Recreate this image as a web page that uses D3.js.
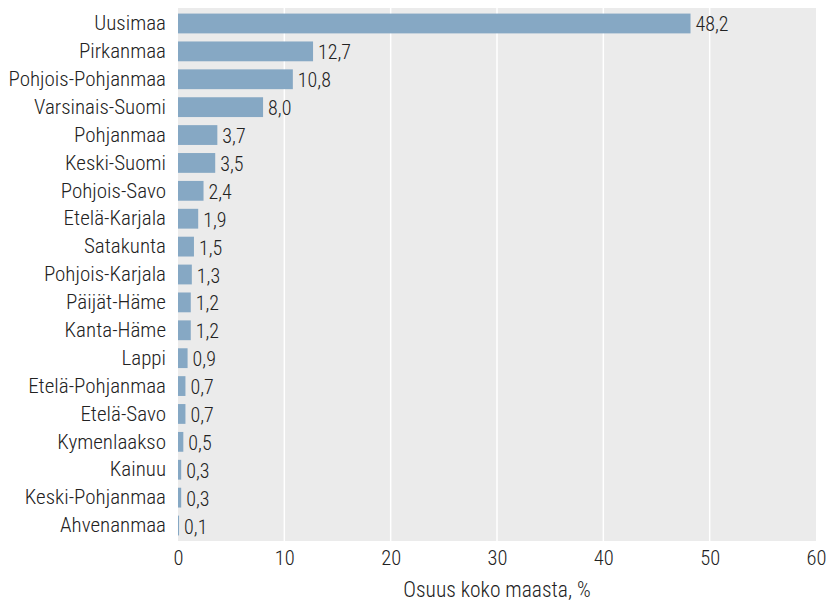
<!DOCTYPE html>
<html><head><meta charset="utf-8">
<script src="https://cdn.jsdelivr.net/npm/d3@7"></script>
<style>
body{margin:0;background:#fff;}
text{font-family:"Roboto Condensed","Liberation Sans Narrow","DejaVu Sans Condensed",sans-serif;font-weight:300;fill:#222;}
</style></head>
<body>
<svg id="chart" width="835" height="603"></svg>
<script>
const regions = ["Uusimaa","Pirkanmaa","Pohjois-Pohjanmaa","Varsinais-Suomi","Pohjanmaa","Keski-Suomi","Pohjois-Savo","Etelä-Karjala","Satakunta","Pohjois-Karjala","Päijät-Häme","Kanta-Häme","Lappi","Etelä-Pohjanmaa","Etelä-Savo","Kymenlaakso","Kainuu","Keski-Pohjanmaa","Ahvenanmaa"];
const shares = [48.2,12.7,10.8,8.0,3.7,3.5,2.4,1.9,1.5,1.3,1.2,1.2,0.9,0.7,0.7,0.5,0.3,0.3,0.1];
const xTicks = [0,10,20,30,40,50,60];
const xTitle = "Osuus koko maasta, %";

const svg = d3.select("#chart");
const W = 835, H = 603;
const m = {l:178, r:W-816, t:8, b:H-541};
const x = d3.scaleLinear().domain([0,60]).range([m.l, W-m.r]);
const y = d3.scaleBand().domain(regions).range([m.t, H-m.b]).paddingInner(0.29).paddingOuter(0.2);

svg.append("rect").attr("x",x(0)).attr("y",m.t).attr("width",x(60)-x(0)).attr("height",H-m.b-m.t).attr("fill","#ebebeb");
svg.append("g").selectAll("line").data(xTicks.filter(d=>d>0&&d<60)).join("line")
  .attr("x1",d=>x(d)).attr("x2",d=>x(d)).attr("y1",m.t).attr("y2",H-m.b)
  .attr("stroke","#fff").attr("stroke-width",1.5);

svg.append("g").selectAll("rect").data(shares).join("rect")
  .attr("x",x(0)).attr("y",(d,i)=>y(regions[i])).attr("width",d=>x(d)-x(0)).attr("height",y.bandwidth())
  .attr("fill","#86a8c4");

svg.append("g").selectAll("text").data(shares).join("text")
  .attr("x",d=>x(d)+5).attr("y",(d,i)=>y(regions[i])+y.bandwidth()/2+1).attr("dy","0.35em")
  .attr("font-size",20).text(d=>d.toFixed(1).replace(".",","));

const ya = d3.axisLeft(y).tickSize(0).tickPadding(12);
svg.append("g").attr("transform",`translate(${x(0)},0)`).call(ya)
  .call(g=>g.select(".domain").remove())
  .selectAll("text").attr("font-size",21).style("font-family",null).attr("fill","#222");

const xa = d3.axisBottom(x).tickValues(xTicks).tickSize(0).tickPadding(9).tickFormat(d=>d);
svg.append("g").attr("transform",`translate(0,${H-m.b})`).call(xa)
  .call(g=>g.select(".domain").remove())
  .selectAll("text").attr("font-size",20.5).attr("fill","#222");

svg.append("text").attr("x",(x(0)+x(60))/2).attr("y",597).attr("text-anchor","middle")
  .attr("font-size",21.5).text(xTitle);
</script>
</body></html>
